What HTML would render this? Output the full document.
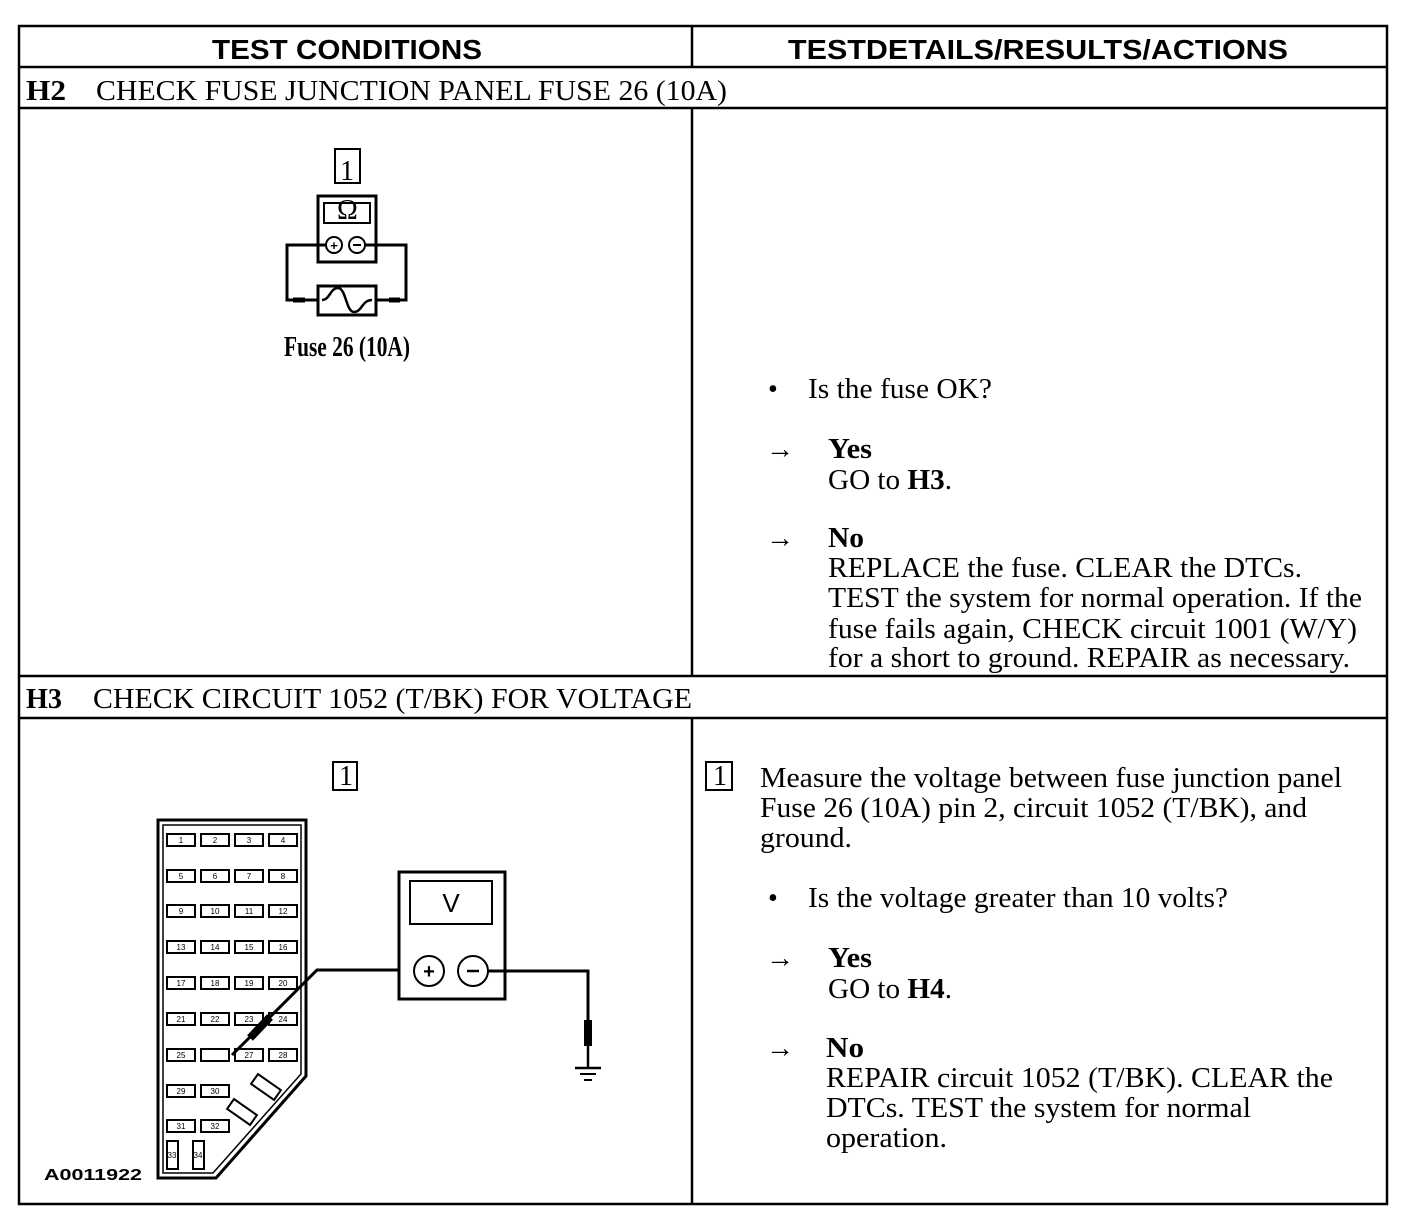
<!DOCTYPE html>
<html><head><meta charset="utf-8"><style>
html,body{margin:0;padding:0;background:#fff}
svg{display:block}
.t{font-family:"Liberation Serif",serif;font-size:28px;fill:#000}
.b{font-weight:bold}
.h{font-family:"Liberation Sans",sans-serif;font-weight:bold;font-size:28px}
</style></head><body>
<svg width="1408" height="1230" viewBox="0 0 1408 1230" xmlns="http://www.w3.org/2000/svg">
<g stroke="#000" stroke-width="2.5" fill="none">
<rect x="19" y="26" width="1368" height="1178"/>
<line x1="19" y1="67" x2="1387" y2="67"/>
<line x1="19" y1="108" x2="1387" y2="108"/>
<line x1="19" y1="676" x2="1387" y2="676"/>
<line x1="19" y1="718" x2="1387" y2="718"/>
<line x1="692" y1="26" x2="692" y2="67"/>
<line x1="692" y1="108" x2="692" y2="676"/>
<line x1="692" y1="718" x2="692" y2="1204"/>
</g>
<text class="h" x="212" y="59" textLength="270" lengthAdjust="spacingAndGlyphs">TEST CONDITIONS</text>
<text class="h" x="788" y="59" textLength="500" lengthAdjust="spacingAndGlyphs">TESTDETAILS/RESULTS/ACTIONS</text>
<text class="t b" x="26" y="100" textLength="40" lengthAdjust="spacingAndGlyphs">H2</text>
<text class="t" x="96" y="100" textLength="631" lengthAdjust="spacingAndGlyphs">CHECK FUSE JUNCTION PANEL FUSE 26 (10A)</text>
<text class="t b" x="26" y="708" textLength="36" lengthAdjust="spacingAndGlyphs">H3</text>
<text class="t" x="93" y="708" textLength="599" lengthAdjust="spacingAndGlyphs">CHECK CIRCUIT 1052 (T/BK) FOR VOLTAGE</text>

<!-- H2 diagram -->
<g stroke="#000" fill="none">
<rect x="335" y="149" width="25" height="34" stroke-width="2"/>
<rect x="318" y="196" width="58" height="66" stroke-width="3"/>
<rect x="324" y="203" width="46" height="20" stroke-width="2"/>
<circle cx="334" cy="245" r="8" stroke-width="2"/>
<circle cx="357" cy="245" r="8" stroke-width="2"/>
<polyline points="326,245 287,245 287,300 318,300" stroke-width="3"/>
<polyline points="365,245 406,245 406,300 376,300" stroke-width="3"/>
<rect x="318" y="286" width="58" height="29" stroke-width="3"/>
<path d="M322,300 C330,300 330,288 338,288 C346,288 346,312 354,312 C362,312 362,300 372,300" stroke-width="2.5"/>
<line x1="293" y1="300" x2="305" y2="300" stroke-width="5"/>
<line x1="389" y1="300" x2="400" y2="300" stroke-width="5"/>
</g>
<text class="t" x="340" y="180" font-size="22">1</text>
<text class="t" x="337" y="219" font-size="17">Ω</text>
<text x="334" y="250" font-family="Liberation Sans" font-size="13" font-weight="bold" text-anchor="middle">+</text>
<line x1="353" y1="245" x2="361" y2="245" stroke="#000" stroke-width="2"/>
<text class="t b" x="284" y="356" font-size="18" textLength="126" lengthAdjust="spacingAndGlyphs">Fuse 26 (10A)</text>

<!-- H2 right -->
<text class="t" x="768" y="398">•</text>
<text class="t" x="808" y="398" textLength="184" lengthAdjust="spacingAndGlyphs">Is the fuse OK?</text>
<text class="t" x="766" y="458">→</text>
<text class="t b" x="828" y="458" textLength="44" lengthAdjust="spacingAndGlyphs">Yes</text>
<text class="t" x="828" y="489" textLength="124" lengthAdjust="spacingAndGlyphs">GO to <tspan font-weight="bold">H3</tspan>.</text>
<text class="t" x="766" y="547">→</text>
<text class="t b" x="828" y="547" textLength="36" lengthAdjust="spacingAndGlyphs">No</text>
<text class="t" x="828" y="577" textLength="474" lengthAdjust="spacingAndGlyphs">REPLACE the fuse. CLEAR the DTCs.</text>
<text class="t" x="828" y="607" textLength="534" lengthAdjust="spacingAndGlyphs">TEST the system for normal operation. If the</text>
<text class="t" x="828" y="638" textLength="529" lengthAdjust="spacingAndGlyphs">fuse fails again, CHECK circuit 1001 (W/Y)</text>
<text class="t" x="828" y="667" textLength="522" lengthAdjust="spacingAndGlyphs">for a short to ground. REPAIR as necessary.</text>

<!-- H3 right -->
<rect x="706" y="762" width="26" height="28" stroke="#000" stroke-width="2" fill="none"/>
<text class="t" x="713" y="785" font-size="22">1</text>
<text class="t" x="760" y="787" textLength="582" lengthAdjust="spacingAndGlyphs">Measure the voltage between fuse junction panel</text>
<text class="t" x="760" y="817" textLength="547" lengthAdjust="spacingAndGlyphs">Fuse 26 (10A) pin 2, circuit 1052 (T/BK), and</text>
<text class="t" x="760" y="847" textLength="92" lengthAdjust="spacingAndGlyphs">ground.</text>
<text class="t" x="768" y="907">•</text>
<text class="t" x="808" y="907" textLength="420" lengthAdjust="spacingAndGlyphs">Is the voltage greater than 10 volts?</text>
<text class="t" x="766" y="967">→</text>
<text class="t b" x="828" y="967" textLength="44" lengthAdjust="spacingAndGlyphs">Yes</text>
<text class="t" x="828" y="998" textLength="124" lengthAdjust="spacingAndGlyphs">GO to <tspan font-weight="bold">H4</tspan>.</text>
<text class="t" x="766" y="1057">→</text>
<text class="t b" x="826" y="1057" textLength="38" lengthAdjust="spacingAndGlyphs">No</text>
<text class="t" x="826" y="1087" textLength="507" lengthAdjust="spacingAndGlyphs">REPAIR circuit 1052 (T/BK). CLEAR the</text>
<text class="t" x="826" y="1117" textLength="425" lengthAdjust="spacingAndGlyphs">DTCs. TEST the system for normal</text>
<text class="t" x="826" y="1147" textLength="121" lengthAdjust="spacingAndGlyphs">operation.</text>

<!-- H3 diagram -->
<rect x="333" y="762" width="24" height="28" stroke="#000" stroke-width="2" fill="none"/>
<text class="t" x="339" y="785" font-size="22">1</text>
<g stroke="#000" fill="none">
<path d="M158,820 L306,820 L306,1076 L216,1178 L158,1178 Z" stroke-width="3"/>
<path d="M163,825 L301,825 L301,1074 L213,1173 L163,1173 Z" stroke-width="1.5"/>
<g stroke-width="2">
<rect x="167" y="834" width="28" height="12"/><rect x="201" y="834" width="28" height="12"/><rect x="235" y="834" width="28" height="12"/><rect x="269" y="834" width="28" height="12"/>
<rect x="167" y="870" width="28" height="12"/><rect x="201" y="870" width="28" height="12"/><rect x="235" y="870" width="28" height="12"/><rect x="269" y="870" width="28" height="12"/>
<rect x="167" y="905" width="28" height="12"/><rect x="201" y="905" width="28" height="12"/><rect x="235" y="905" width="28" height="12"/><rect x="269" y="905" width="28" height="12"/>
<rect x="167" y="941" width="28" height="12"/><rect x="201" y="941" width="28" height="12"/><rect x="235" y="941" width="28" height="12"/><rect x="269" y="941" width="28" height="12"/>
<rect x="167" y="977" width="28" height="12"/><rect x="201" y="977" width="28" height="12"/><rect x="235" y="977" width="28" height="12"/><rect x="269" y="977" width="28" height="12"/>
<rect x="167" y="1013" width="28" height="12"/><rect x="201" y="1013" width="28" height="12"/><rect x="235" y="1013" width="28" height="12"/><rect x="269" y="1013" width="28" height="12"/>
<rect x="167" y="1049" width="28" height="12"/><rect x="201" y="1049" width="28" height="12"/><rect x="235" y="1049" width="28" height="12"/><rect x="269" y="1049" width="28" height="12"/>
<rect x="167" y="1085" width="28" height="12"/><rect x="201" y="1085" width="28" height="12"/>
<rect x="167" y="1120" width="28" height="12"/><rect x="201" y="1120" width="28" height="12"/>
<rect x="252" y="1081" width="28" height="12" transform="rotate(35 266 1087)"/>
<rect x="228" y="1106" width="28" height="12" transform="rotate(35 242 1112)"/>
<rect x="167" y="1141" width="11" height="28"/><rect x="193" y="1141" width="11" height="28"/>
</g>
<rect x="399" y="872" width="106" height="127" stroke-width="3"/>
<rect x="410" y="881" width="82" height="43" stroke-width="2"/>
<circle cx="429" cy="971" r="15" stroke-width="2"/>
<circle cx="473" cy="971" r="15" stroke-width="2"/>
<polyline points="399,970 317,970 232,1055" stroke-width="3"/>
<line x1="270" y1="1017" x2="250" y2="1038" stroke-width="8"/>
<polyline points="488,971 588,971 588,1020" stroke-width="3"/>
<line x1="588" y1="1020" x2="588" y2="1046" stroke-width="8"/>
<line x1="588" y1="1046" x2="588" y2="1068" stroke-width="2.5"/>
<line x1="575" y1="1068" x2="601" y2="1068" stroke-width="2.5"/>
<line x1="580" y1="1074" x2="596" y2="1074" stroke-width="2"/>
<line x1="584" y1="1080" x2="592" y2="1080" stroke-width="2"/>
</g>
<text x="451" y="912" font-family="Liberation Sans" font-size="26" text-anchor="middle">V</text>
<text x="429" y="978" font-family="Liberation Sans" font-size="20" font-weight="bold" text-anchor="middle">+</text>
<line x1="467" y1="971" x2="479" y2="971" stroke="#000" stroke-width="2.5"/>
<g font-family="Liberation Sans" font-size="8" text-anchor="middle">
<text x="181" y="843">1</text><text x="215" y="843">2</text><text x="249" y="843">3</text><text x="283" y="843">4</text>
<text x="181" y="879">5</text><text x="215" y="879">6</text><text x="249" y="879">7</text><text x="283" y="879">8</text>
<text x="181" y="914">9</text><text x="215" y="914">10</text><text x="249" y="914">11</text><text x="283" y="914">12</text>
<text x="181" y="950">13</text><text x="215" y="950">14</text><text x="249" y="950">15</text><text x="283" y="950">16</text>
<text x="181" y="986">17</text><text x="215" y="986">18</text><text x="249" y="986">19</text><text x="283" y="986">20</text>
<text x="181" y="1022">21</text><text x="215" y="1022">22</text><text x="249" y="1022">23</text><text x="283" y="1022">24</text>
<text x="181" y="1058">25</text><text x="249" y="1058">27</text><text x="283" y="1058">28</text>
<text x="181" y="1094">29</text><text x="215" y="1094">30</text>
<text x="181" y="1129">31</text><text x="215" y="1129">32</text>
<text x="172" y="1158">33</text><text x="198" y="1158">34</text>
</g>
<text x="44" y="1180" font-family="Liberation Sans" font-weight="bold" font-size="16" textLength="98" lengthAdjust="spacingAndGlyphs">A0011922</text>
</svg>
</body></html>
